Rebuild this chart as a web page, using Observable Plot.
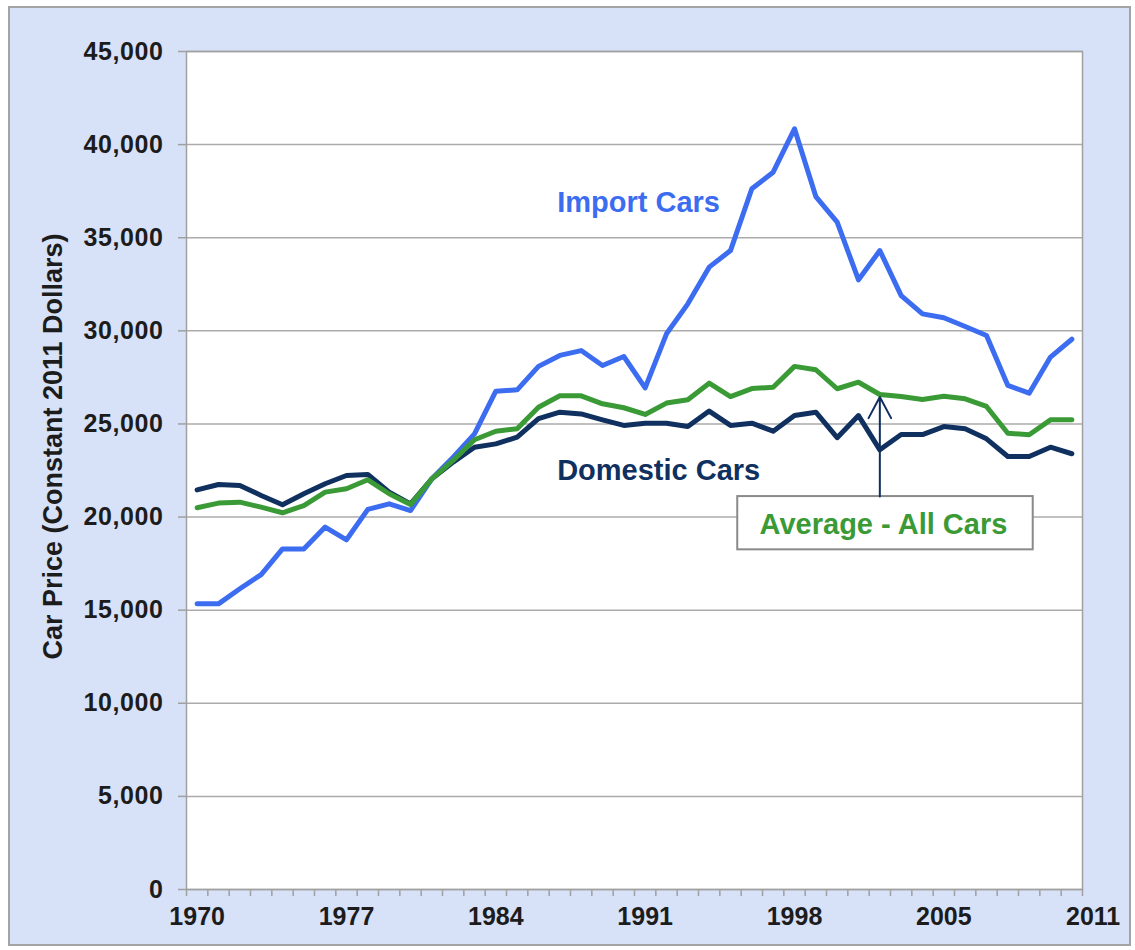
<!DOCTYPE html>
<html><head><meta charset="utf-8">
<script src="https://cdn.jsdelivr.net/npm/d3@7"></script>
<script src="https://cdn.jsdelivr.net/npm/@observablehq/plot@0.6"></script>
<style>
body{margin:0;background:#fff;}
#wrap{position:relative;width:1135px;height:950px;}
#bg{position:absolute;left:8px;top:6px;width:1119px;height:936px;background:#d7e1f8;border:2px solid #a4a4a4;}
#chart{position:absolute;left:0;top:0;}
g[aria-label="y-axis tick"], g[aria-label="x-axis tick"]{stroke:#a0a0a0;stroke-width:1.5px;}
g[aria-label="y-axis tick label"] text{font-size:25px;font-weight:bold;letter-spacing:0.6px;fill:#1c1c1c;}
</style></head>
<body><div id="wrap"><div id="bg"></div><div id="chart"></div></div>
<script>
const years = [1970,1971,1972,1973,1974,1975,1976,1977,1978,1979,
  1980,1981,1982,1983,1984,1985,1986,1987,1988,1989,
  1990,1991,1992,1993,1994,1995,1996,1997,1998,1999,
  2000,2001,2002,2003,2004,2005,2006,2007,2008,2009,2010,2011];
const importCars = [15340,15340,16150,16910,18290,18290,19460,18780,20410,20710,
  20350,22050,23210,24470,26760,26830,28090,28680,28940,28140,
  28620,26940,29840,31450,33420,34310,37630,38520,40850,37210,
  35840,32740,34310,31890,30910,30700,30230,29750,27070,26650,28590,29550];
const domesticCars = [21460,21750,21700,21160,20660,21250,21790,22230,22290,21340,
  20710,22050,22950,23750,23930,24290,25280,25630,25540,25220,
  24920,25040,25040,24860,25690,24920,25040,24610,25450,25630,
  24260,25450,23610,24430,24430,24860,24740,24200,23250,23250,23750,23400];
const averageAll = [20500,20750,20800,20530,20230,20620,21340,21520,22000,21250,
  20670,22050,23040,24150,24610,24740,25900,26510,26510,26080,
  25870,25510,26120,26300,27190,26470,26900,26970,28090,27910,
  26890,27240,26580,26470,26310,26490,26350,25940,24500,24420,25220,25220];
const yTicks = [0,5000,10000,15000,20000,25000,30000,35000,40000,45000];
const xTickLabels = ["1970","1977","1984","1991","1998","2005","2011"];
const yTitle = "Car Price (Constant 2011 Dollars)";
const seriesLabels = ["Import Cars","Domestic Cars","Average - All Cars"];

const toRows = vals => years.map((yr,i)=>({year:yr, value:vals[i]}));
const boundaries = years.map(y=>y-0.5).concat([years[years.length-1]+0.5]);

const blue = "#3c6cf0", navy = "#10305f", green = "#3a9a36";

const chart = Plot.plot({
  width:1135, height:950,
  marginLeft:186, marginRight:53, marginTop:51, marginBottom:61,
  x:{domain:[years[0]-0.5, years[years.length-1]+0.5]},
  y:{domain:[0,45000]},
  style:{background:"transparent", fontFamily:"Liberation Sans, Arial, Helvetica, sans-serif", color:"#1a1a1a", overflow:"visible"},
  marks:[
    Plot.frame({fill:"white"}),
    Plot.gridY(yTicks, {stroke:"#ababab", strokeOpacity:1, strokeWidth:1.5}),
    Plot.frame({stroke:"#a0a0a0", strokeWidth:1.5}),
    Plot.axisY({ticks:yTicks, tickSize:8, tickPadding:15, tickFormat:d3.format(","), label:null, fontSize:25, fontWeight:"bold"}),
    Plot.axisX({ticks:boundaries, tickSize:7, tickFormat:()=>"", label:null}),
    Plot.line(toRows(domesticCars), {x:"year", y:"value", stroke:navy, strokeWidth:5, strokeLinejoin:"round"}),
    Plot.line(toRows(importCars), {x:"year", y:"value", stroke:blue, strokeWidth:5, strokeLinejoin:"round"}),
    Plot.line(toRows(averageAll), {x:"year", y:"value", stroke:green, strokeWidth:5, strokeLinejoin:"round"}),
    Plot.rect([{x1:1995.34, x2:2009.19, y1:18240, y2:21100}], {x1:"x1", x2:"x2", y1:"y1", y2:"y2", fill:"white", stroke:"#8a8a8a", strokeWidth:2}),
    Plot.arrow([{x:2002, y1:21100, y2:26450}], {x1:"x", x2:"x", y1:"y1", y2:"y2", stroke:navy, strokeWidth:2, headLength:18, headAngle:56}),
    Plot.text([seriesLabels[0]], {x:1986.875, y:36900, text:d=>d, textAnchor:"start", fill:blue, fontSize:29, fontWeight:"bold"}),
    Plot.text([seriesLabels[1]], {x:1986.875, y:22500, text:d=>d, textAnchor:"start", fill:navy, fontSize:29, fontWeight:"bold"}),
    Plot.text([seriesLabels[2]], {x:2002.17, y:19600, text:d=>d, fill:green, fontSize:29, fontWeight:"bold"}),
    Plot.text(xTickLabels, {x:(d,i)=>years[0]+7*i, frameAnchor:"bottom", dy:35, text:d=>d, fontSize:25, fontWeight:"bold", fill:"#1c1c1c"}),
    Plot.text([yTitle], {frameAnchor:"left", textAnchor:"middle", rotate:-90, dx:-133, dy:-24, text:d=>d, fontSize:27, fontWeight:"bold", fill:"#1c1c1c"})
  ]
});
document.getElementById("chart").appendChild(chart);
</script>
</body></html>
